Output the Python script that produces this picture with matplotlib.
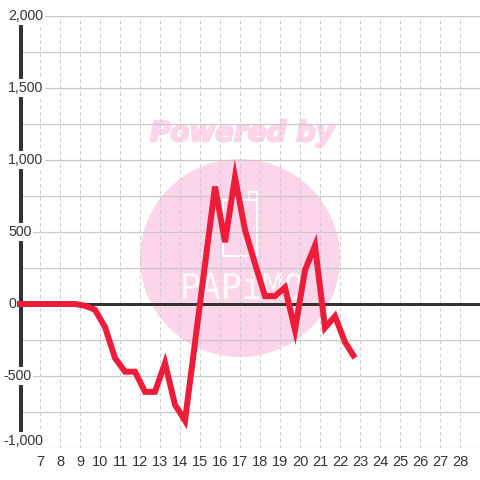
import matplotlib
matplotlib.use("Agg")
import matplotlib.pyplot as plt
import matplotlib.patheffects as pe
from matplotlib.patches import Ellipse, Rectangle

plt.rcParams["lines.scale_dashes"] = False

# data
x_vals = [5.75, 6.25, 6.75, 7.25, 7.75, 8.25, 8.75, 9.25, 9.75, 10.25,
          10.75, 11.25, 11.75, 12.25, 12.75, 13.25, 13.75, 14.25, 15.75,
          16.25, 16.75, 17.25, 17.75, 18.25, 18.75, 19.25, 19.75, 20.25,
          20.75, 21.25, 21.75, 22.25, 22.75]
y_vals = [0, 0, 0, 0, 0, 0, 0, -12, -40, -160,
          -375, -470, -470, -610, -610, -410, -700, -810, 815,
          430, 880, 515, 280, 55, 55, 115, -180, 235,
          405, -165, -85, -265, -375]
x_ticks = list(range(7, 29))
y_ticks = [-1000, -500, 0, 500, 1000, 1500, 2000]
y_labels = ["-1,000", "-500", "0", "500", "1,000", "1,500", "2,000"]
y_grid = [-1000, -750, -500, -250, 0, 250, 500, 750, 1000, 1250, 1500, 1750, 2000]

PX = 0.72  # one pixel in points at dpi 100
DARK = "#333333"
PINK = "#fcd5ea"

fig = plt.figure(figsize=(4.8, 4.8), dpi=100, facecolor="white")
ax = fig.add_axes([17 / 480, 32 / 480, 463 / 480, 432 / 480])
ax.set_xlim(5.85, 29)
ax.set_ylim(-1000, 2000)
for s in ax.spines.values():
    s.set_visible(False)

# watermark (under the grid)
ax.add_patch(Ellipse((17, 319), 10, 1375, facecolor=PINK, edgecolor="none", zorder=0))
ax.text(17.1, 1187, "Powered by", color=PINK, fontsize=20, fontweight="bold",
        fontstyle="italic", family="DejaVu Sans", ha="center", va="center", zorder=0,
        path_effects=[pe.withStroke(linewidth=1.6, foreground=PINK)])
ax.add_patch(Rectangle((16.15, 330), 1.7, 395, facecolor="none", edgecolor="white",
                       lw=2 * PX, zorder=0.5))
ax.add_patch(Rectangle((17.45, 725), 0.4, 50, facecolor="none", edgecolor="white",
                       lw=2 * PX, zorder=0.5))
ax.text(17.1, 110, "PAPiMO", color="white", fontsize=25, family="DejaVu Sans Mono",
        ha="center", va="center", zorder=0.5, alpha=0.85)

# grid
ax.hlines(y_grid, 6.05, 29, colors="#c8c8c8", lw=1.2 * PX, zorder=1)
ax.vlines(x_ticks, -1000, 2000, colors="#cccccc", lw=1 * PX,
          linestyles=(0, (2.5, 2.2)), zorder=1)

# axis lines
ax.plot([6.05, 29], [0, 0], color=DARK, lw=3 * PX, zorder=3, solid_capstyle="butt")
ax.plot([6.05, 6.05], [-1000, 2000], color=DARK, lw=4 * PX, zorder=3,
        solid_capstyle="butt")

# y labels (left aligned, minus sign hangs out)
for v, lab in zip(y_ticks, y_labels):
    yy = -950 if v == -1000 else v
    xx = 5.15 if lab.startswith("-") else 5.4
    ax.text(xx, yy, lab, ha="left", va="center", fontsize=10.2, color=DARK,
            family="Liberation Sans", zorder=3.5, clip_on=False,
            bbox=dict(facecolor="white", edgecolor="none", pad=1.2))

# series
ax.plot(x_vals, y_vals, color="#ed1c38", lw=6 * PX, zorder=4,
        solid_joinstyle="miter", solid_capstyle="butt")

ax.set_yticks([])
ax.set_xticks(x_ticks)
ax.set_xticklabels([str(t) for t in x_ticks], family="Liberation Sans",
                   fontsize=10.5, color=DARK)
ax.tick_params(axis="x", length=0, pad=5)

fig.savefig("out.png", dpi=100, facecolor="white")
